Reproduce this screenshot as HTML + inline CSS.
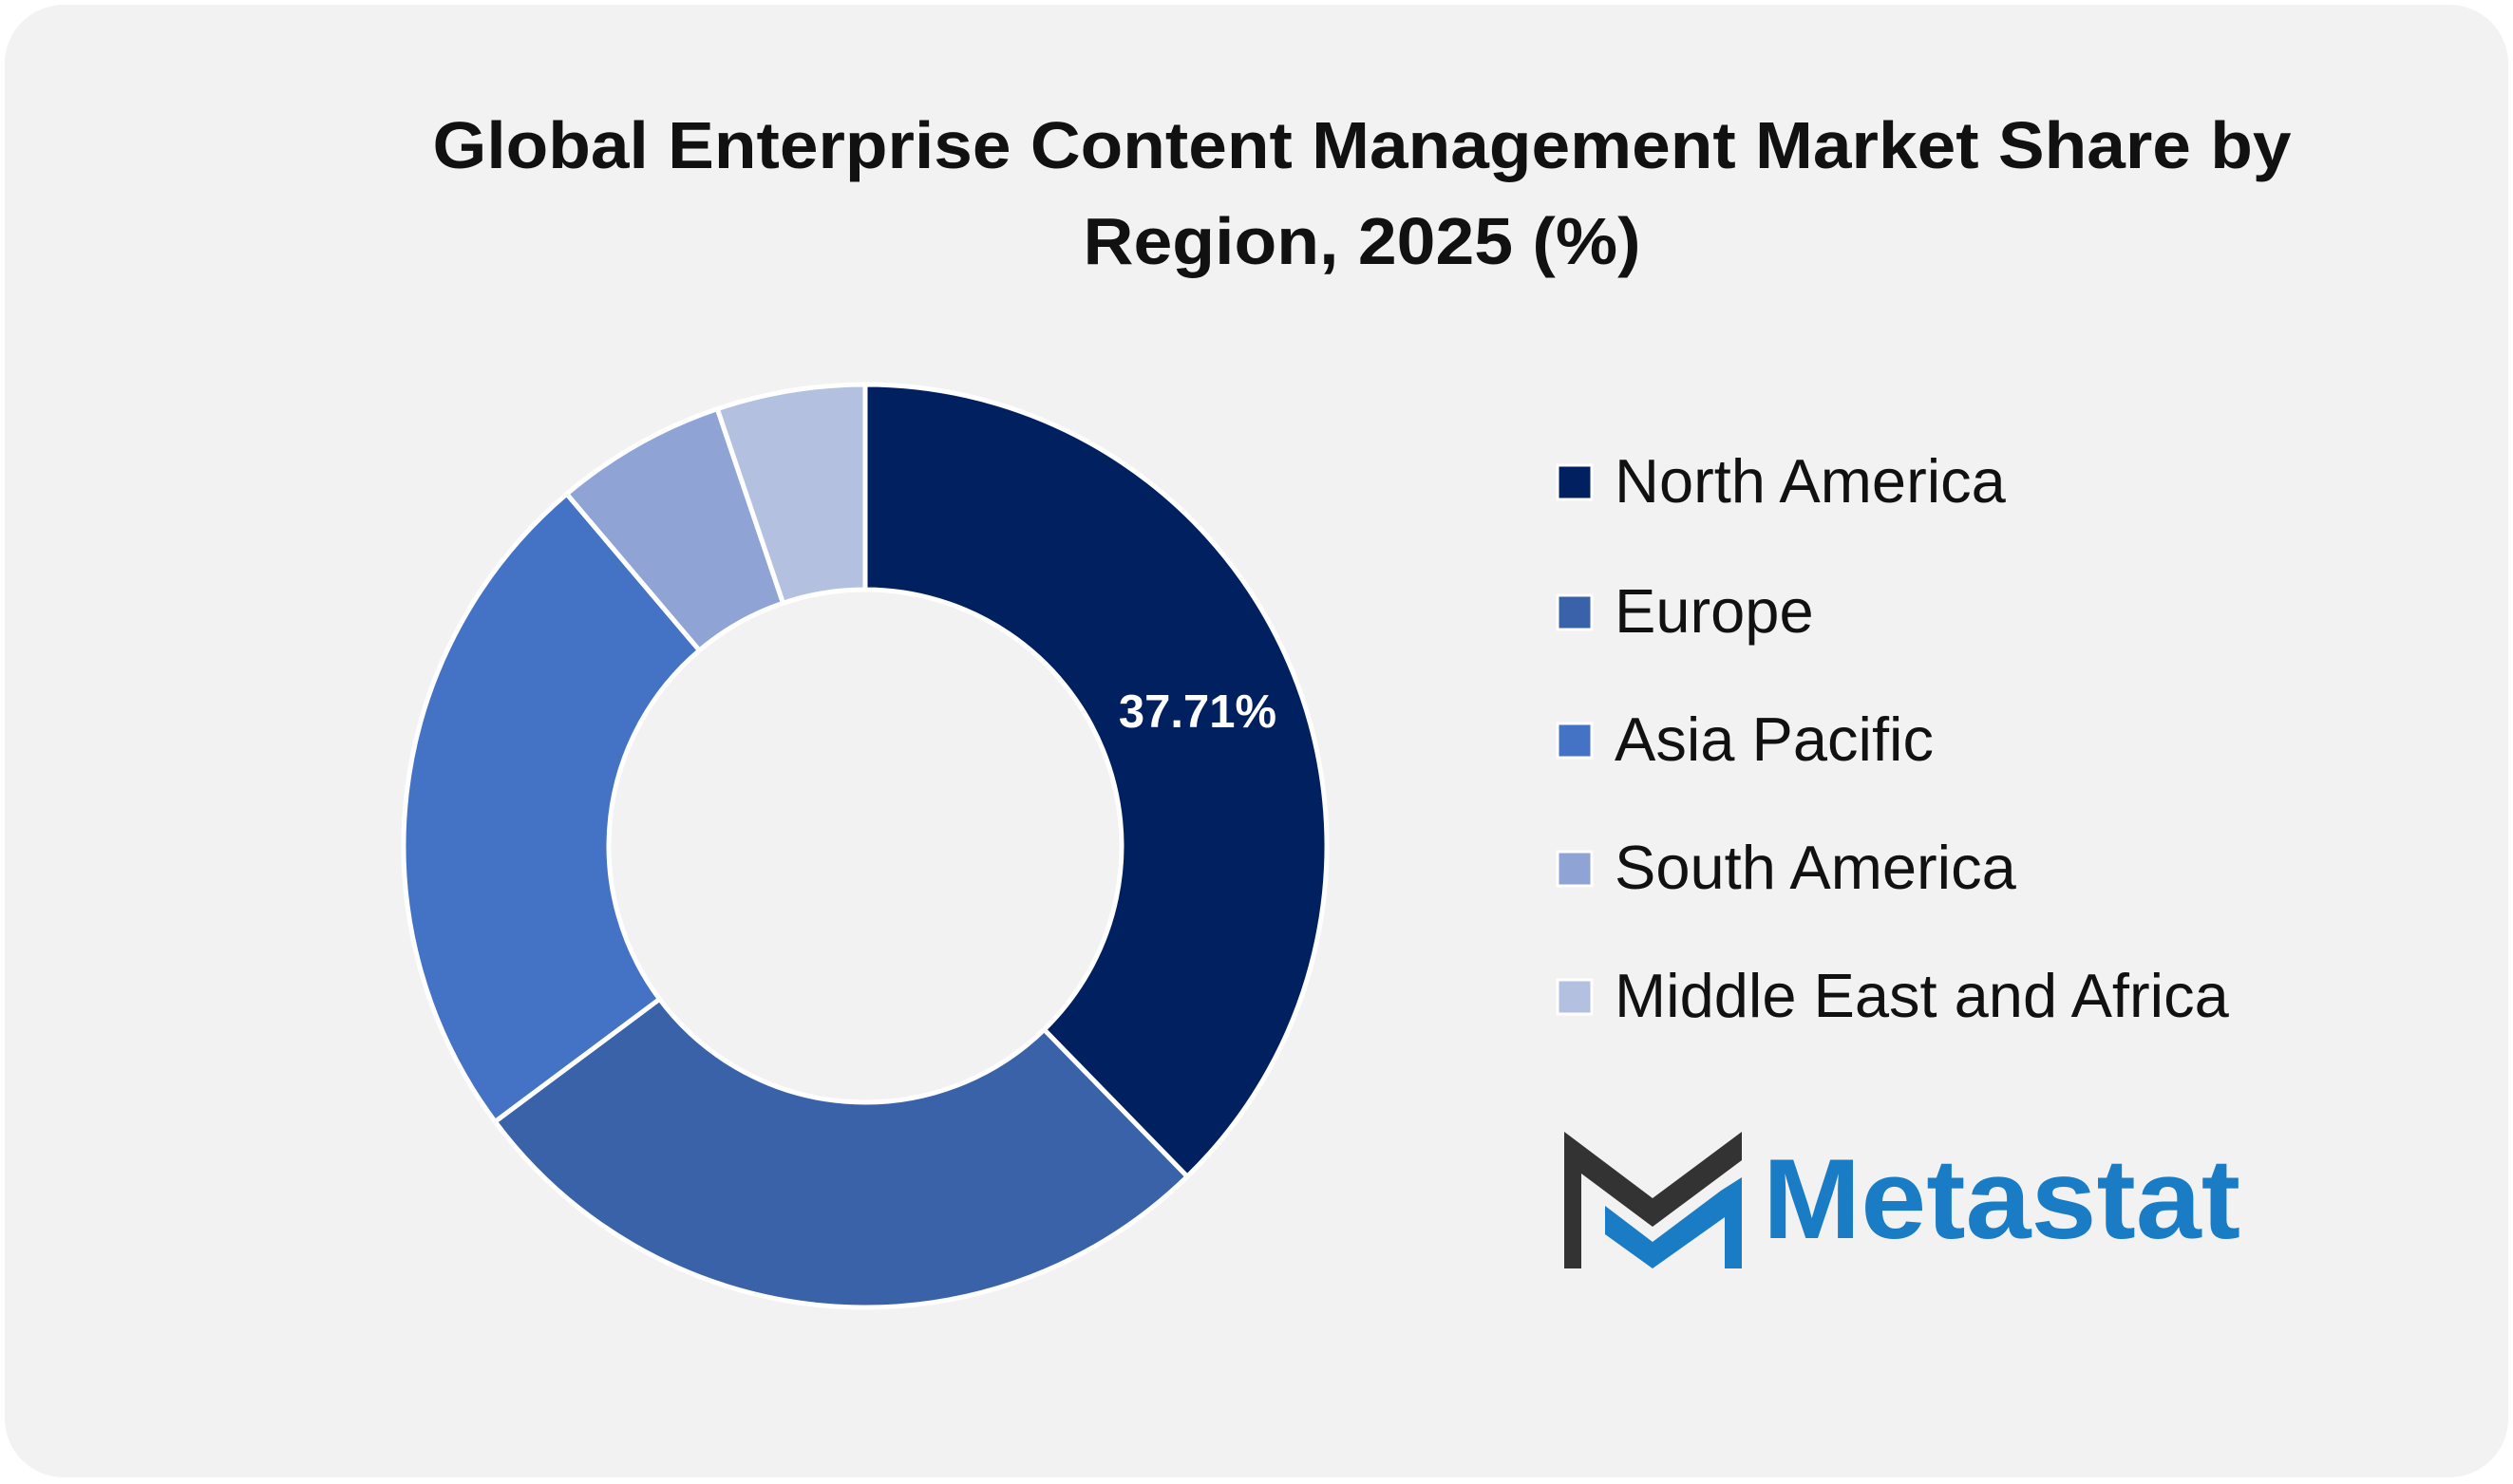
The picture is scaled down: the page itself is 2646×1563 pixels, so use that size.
<!DOCTYPE html>
<html><head><meta charset="utf-8">
<style>
html,body{margin:0;padding:0;background:#fff;}
svg{display:block;font-family:"Liberation Sans",sans-serif;}
</style></head>
<body>
<svg id="s" width="2646" height="1563" viewBox="0 0 2646 1563" xmlns="http://www.w3.org/2000/svg">
<rect x="5" y="5" width="2636" height="1551" rx="62" fill="#f2f2f2"/>
<text x="1434" y="177" font-size="70" font-weight="bold" text-anchor="middle" fill="#111" textLength="1957" lengthAdjust="spacingAndGlyphs">Global Enterprise Content Management Market Share by</text>
<text x="1434" y="278" font-size="70" font-weight="bold" text-anchor="middle" fill="#111" textLength="587" lengthAdjust="spacingAndGlyphs">Region, 2025 (%)</text>
<g id="donut"></g>
<text x="1261" y="766" font-size="49" font-weight="bold" text-anchor="middle" fill="#fff">37.71%</text>
<g font-size="65" fill="#111">
<rect x="1640" y="490" width="36" height="36" fill="#002060" stroke="#fff" stroke-width="3"/><text x="1700" y="529">North America</text>
<rect x="1640" y="627" width="36" height="36" fill="#3a62a8" stroke="#fff" stroke-width="3"/><text x="1700" y="666">Europe</text>
<rect x="1640" y="762" width="36" height="36" fill="#4472c4" stroke="#fff" stroke-width="3"/><text x="1700" y="801">Asia Pacific</text>
<rect x="1640" y="897" width="36" height="36" fill="#8fa4d4" stroke="#fff" stroke-width="3"/><text x="1700" y="936">South America</text>
<rect x="1640" y="1032" width="36" height="36" fill="#b4c0e0" stroke="#fff" stroke-width="3"/><text x="1700" y="1071">Middle East and Africa</text>
</g>
<g>
<polygon points="1647,1192 1740,1262 1834,1192 1834,1222 1740,1292 1665,1236 1665,1336 1647,1336" fill="#333"/>
<polygon points="1690,1270 1740,1308 1812,1254 1834,1240 1834,1336 1816,1336 1816,1282 1740,1336 1690,1300" fill="#1a7cc4"/>
<text x="1856" y="1304" font-size="120" font-weight="bold" fill="#1a7cc4" textLength="503" lengthAdjust="spacingAndGlyphs">Metastat</text>
</g>
</svg>
<script>
var cx=911,cy=891,R=486,r=270;
var d=[[37.71,"#002060"],[27.1,"#3a62a8"],[24.0,"#4472c4"],[6.0,"#8fa4d4"],[5.19,"#b4c0e0"]];
var tot=0;d.forEach(function(a){tot+=a[0];});
var a0=0,g=document.getElementById("donut"),h="";
function P(rad,t){return (cx+rad*Math.sin(t)).toFixed(2)+","+(cy-rad*Math.cos(t)).toFixed(2);}
d.forEach(function(a){
 var a1=a0+a[0]/tot*2*Math.PI,l=(a1-a0)>Math.PI?1:0;
 h+='<path d="M'+P(R,a0)+' A'+R+','+R+' 0 '+l+' 1 '+P(R,a1)+' L'+P(r,a1)+' A'+r+','+r+' 0 '+l+' 0 '+P(r,a0)+' Z" fill="'+a[1]+'" stroke="#fff" stroke-width="5"/>';
 a0=a1;
});
g.innerHTML=h;
</script>
</body></html>
